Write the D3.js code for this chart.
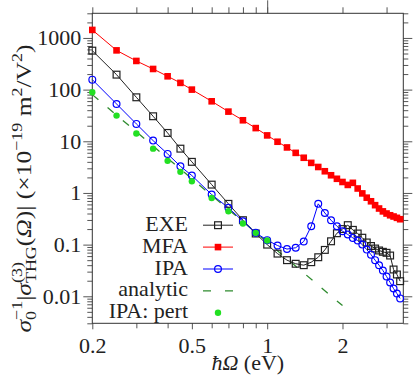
<!DOCTYPE html>
<head>
  <meta charset="utf-8">
  <script src="https://d3js.org/d3.v7.min.js"></script>
  <style>
    body { margin: 0; background: white; }
    text { font-family: "Liberation Serif", serif; fill: #222; }
    .tick line { stroke: #555; }
  </style>
</head>
<body>
  <script>
    // photon energies (eV)
    const energies = [0.2, 0.25, 0.3, 0.35, 0.4, 0.45, 0.5, 0.6, 0.7, 0.8, 0.9, 1.0,
        1.1, 1.2, 1.3, 1.4, 1.5, 1.6, 1.7, 1.8, 1.9, 2.0, 2.1, 2.2, 2.3, 2.4, 2.5,
        2.6, 2.7, 2.8, 2.9, 3.0, 3.1, 3.2, 3.3, 3.4];
    const exeValues = [568, 195, 71, 30.5, 14.5, 7.2, 4.0, 1.45, 0.615, 0.297, 0.164, 0.100,
        0.067, 0.050, 0.0426, 0.040, 0.0457, 0.057, 0.079, 0.116, 0.166, 0.20, 0.238, 0.193,
        0.164, 0.136, 0.110, 0.094, 0.084, 0.077, 0.0726, 0.0694, 0.0615, 0.033, 0.0264, 0.0196];
    const mfaValues = [1430, 575, 359, 251, 181, 135, 100, 59.4, 37.5, 25.5, 18.0, 13.0,
        9.8, 7.6, 5.97, 4.8, 3.82, 3.18, 2.63, 2.2, 1.88, 1.63, 1.43, 1.57,
        1.22, 0.98, 0.81, 0.69, 0.58, 0.50, 0.44, 0.40, 0.37, 0.35, 0.33, 0.31];
    const ipaValues = [156, 52.8, 21.7, 10.3, 5.7, 3.28, 2.17, 0.93, 0.515, 0.284, 0.169, 0.122,
        0.096, 0.082, 0.087, 0.115, 0.227, 0.615, 0.41, 0.297, 0.227, 0.182, 0.157, 0.135,
        0.12, 0.1, 0.080, 0.064, 0.050, 0.040, 0.0316, 0.0242, 0.0185, 0.0141, 0.0113, 0.0091];
    const pertEnergies = [0.2, 0.25, 0.3, 0.35, 0.4, 0.45, 0.5, 0.6, 0.7, 0.8, 0.9, 1.0];
    const pertValues = [88.7, 31.4, 14.1, 7.2, 4.18, 2.56, 1.68, 0.80, 0.443, 0.256, 0.169, 0.12];
    const analyticEnergies = [0.2, 0.5, 1.0, 2.0];
    const analyticValues = [80, 1.88, 0.112, 0.0066];

    const xMajorTicks = [0.2, 0.5, 1, 2];
    const xMinorTicks = [0.3, 0.4, 0.6, 0.7, 0.8, 0.9, 3];
    const yMajorTicks = [0.01, 0.1, 1, 10, 100, 1000];
    const yTickLabels = ["0.01", "0.1", "1", "10", "100", "1000"];

    const margin = {top: 13.3, right: 12.7, bottom: 58.7, left: 92.3},
        width = 416 - margin.left - margin.right,
        height = 382 - margin.top - margin.bottom;

    const black = "#222", red = "#ff0000", blue = "#0000ff",
        dashGreen = "#2e8b2e", dotGreen = "#22e022";

    const root = d3.select("body").append("svg")
        .attr("width", 416)
        .attr("height", 382);
    const svg = root.append("g")
        .attr("transform", "translate(" + margin.left + "," + margin.top + ")");

    const x = d3.scaleLog().domain([0.2, 3.5]).range([0, width]);
    const y = d3.scaleLog().domain([0.003, 3000]).range([height, 0]);

    const yMinorTicks = [];
    [0.001, 0.01, 0.1, 1, 10, 100, 1000].forEach(d => {
        for (let k = 2; k <= 9; k++) {
            const v = d * k;
            if (v >= 0.003 && v <= 3000) yMinorTicks.push(v);
        }
    });

    // axes
    svg.append("g").attr("transform", "translate(0," + height + ")")
        .call(d3.axisBottom(x).tickValues(xMajorTicks).tickSize(6).tickPadding(8)
            .tickFormat(d3.format("")));
    svg.append("g").attr("transform", "translate(0," + height + ")")
        .call(d3.axisBottom(x).tickValues(xMinorTicks).tickSize(5).tickFormat(""));
    svg.append("g")
        .call(d3.axisTop(x).tickValues(xMajorTicks.concat(xMinorTicks)).tickSize(6).tickFormat(""));
    svg.append("g")
        .call(d3.axisTop(x).tickValues([1]).tickSize(13).tickFormat(""));
    svg.append("g")
        .call(d3.axisLeft(y).tickValues(yMajorTicks).tickSize(9).tickPadding(2)
            .tickFormat((d, i) => yTickLabels[i]));
    svg.append("g")
        .call(d3.axisLeft(y).tickValues(yMinorTicks).tickSize(5).tickFormat(""));
    svg.append("g").attr("transform", "translate(" + width + ",0)")
        .call(d3.axisRight(y).tickValues(yMajorTicks).tickSize(9).tickFormat(""));
    svg.append("g").attr("transform", "translate(" + width + ",0)")
        .call(d3.axisRight(y).tickValues(yMinorTicks).tickSize(5).tickFormat(""));

    svg.selectAll(".domain").remove();
    svg.selectAll(".tick text")
        .style("font-family", "Liberation Serif")
        .style("font-size", "22px")
        .attr("fill", "#222");

    svg.append("rect")
        .attr("width", width)
        .attr("height", height)
        .attr("fill", "none")
        .attr("stroke", "#333")
        .attr("stroke-width", 1);

    const line = d3.line().x(d => x(d[0])).y(d => y(d[1]));
    const zipped = (xs, ys) => xs.map((e, i) => [e, ys[i]]);

    const exeData = zipped(energies, exeValues);
    const mfaData = zipped(energies, mfaValues);
    const ipaData = zipped(energies, ipaValues);
    const pertData = zipped(pertEnergies, pertValues);
    const analyticData = zipped(analyticEnergies, analyticValues);

    function drawMarker(sel, type, cx, cy) {
        if (type === "exe") {
            sel.append("rect").attr("x", cx - 3.4).attr("y", cy - 3.4)
                .attr("width", 6.8).attr("height", 6.8)
                .attr("fill", "none").attr("stroke", black).attr("stroke-width", 1.2);
        } else if (type === "mfa") {
            sel.append("rect").attr("x", cx - 3.3).attr("y", cy - 3.3)
                .attr("width", 6.6).attr("height", 6.6)
                .attr("fill", red);
        } else if (type === "ipa") {
            sel.append("circle").attr("cx", cx).attr("cy", cy).attr("r", 3.4)
                .attr("fill", "none").attr("stroke", blue).attr("stroke-width", 1.2);
        } else if (type === "pert") {
            sel.append("circle").attr("cx", cx).attr("cy", cy).attr("r", 3.2)
                .attr("fill", dotGreen);
        }
    }

    const plot = svg.append("g");
    plot.append("path").datum(analyticData).attr("d", line)
        .attr("fill", "none").attr("stroke", dashGreen).attr("stroke-width", 1.3)
        .attr("stroke-dasharray", "8,12");
    plot.append("path").datum(mfaData).attr("d", line)
        .attr("fill", "none").attr("stroke", red).attr("stroke-width", 1);
    plot.append("path").datum(exeData).attr("d", line)
        .attr("fill", "none").attr("stroke", black).attr("stroke-width", 1);
    plot.append("path").datum(ipaData).attr("d", line)
        .attr("fill", "none").attr("stroke", blue).attr("stroke-width", 1);

    mfaData.forEach(d => drawMarker(plot, "mfa", x(d[0]), y(d[1])));
    exeData.forEach(d => drawMarker(plot, "exe", x(d[0]), y(d[1])));
    ipaData.forEach(d => drawMarker(plot, "ipa", x(d[0]), y(d[1])));
    pertData.forEach(d => drawMarker(plot, "pert", x(d[0]), y(d[1])));

    // legend
    const legendItems = [
        {name: "EXE", type: "exe", color: black},
        {name: "MFA", type: "mfa", color: red},
        {name: "IPA", type: "ipa", color: blue},
        {name: "analytic", type: "analytic", color: dashGreen},
        {name: "IPA: pert", type: "pert", color: null}
    ];
    const legend = root.append("g");
    legendItems.forEach((item, i) => {
        const by = 230.7 + i * 21.9;
        legend.append("text")
            .attr("x", 188).attr("y", by)
            .attr("text-anchor", "end")
            .style("font-size", "22px")
            .text(item.name);
        const ly = by - 5.5;
        if (item.type === "analytic") {
            legend.append("line").attr("x1", 203).attr("x2", 233).attr("y1", ly).attr("y2", ly)
                .attr("stroke", item.color).attr("stroke-width", 1.3)
                .attr("stroke-dasharray", "8,14");
        } else if (item.color) {
            legend.append("line").attr("x1", 203).attr("x2", 233).attr("y1", ly).attr("y2", ly)
                .attr("stroke", item.color).attr("stroke-width", 1);
        }
        if (item.type !== "analytic") drawMarker(legend, item.type, 218, ly);
    });

    // x label
    const xl = root.append("text")
        .attr("x", margin.left + width / 2).attr("y", 370)
        .attr("text-anchor", "middle")
        .style("font-size", "22px");
    xl.append("tspan").style("font-style", "italic").text("ħΩ");
    xl.append("tspan").text(" (eV)");

    // y label (stretched along its length to mimic the wider TeX font)
    const yl = root.append("text")
        .attr("transform", "translate(31,188.5) rotate(-90) scale(1.16,1)")
        .attr("text-anchor", "middle")
        .style("font-size", "22px");
    let shift = 0;
    function part(txt, pos, italic, back) {
        const target = pos === "sup" ? -9 : pos === "sub" ? 5 : 0;
        const t = yl.append("tspan")
            .attr("dy", target - shift)
            .style("font-size", pos === "base" ? "22px" : "15.5px")
            .style("font-style", italic ? "italic" : "normal")
            .text(txt);
        if (back) t.attr("dx", -back);
        shift = target;
        return t;
    }
    part("σ", "base", true);
    const s0 = part("0", "sub", false);
    part("−1", "sup", false, s0.node().getComputedTextLength());
    part("|", "base", false);
    part("σ", "base", true);
    const s3 = part("(3)", "sup", false);
    part("THG", "sub", false, s3.node().getComputedTextLength());
    part("(", "base", false);
    part("Ω", "base", true);
    part(")|  (×10", "base", false);
    part("−19", "sup", false);
    part(" m", "base", false);
    part("2", "sup", false);
    part("/V", "base", false);
    part("2", "sup", false);
    part(")", "base", false);
  </script>
</body>
